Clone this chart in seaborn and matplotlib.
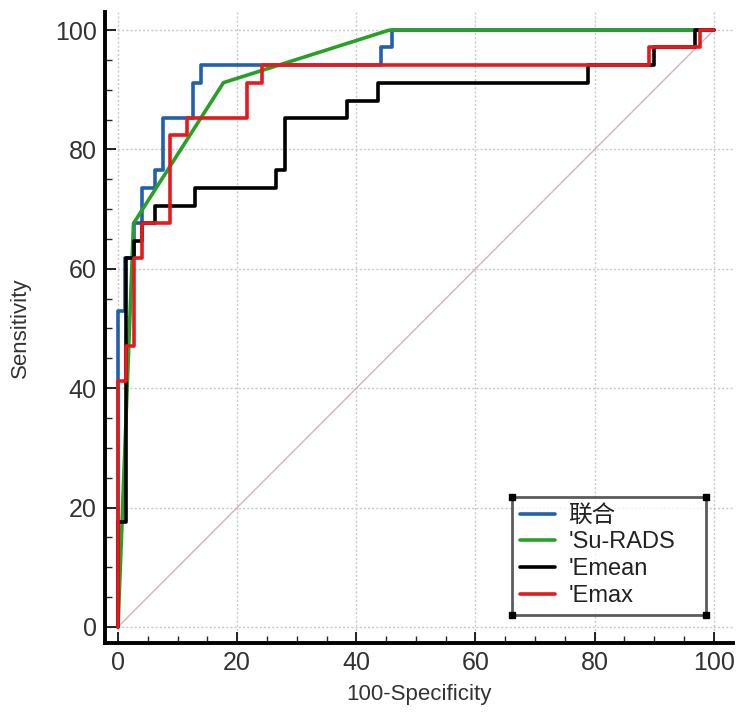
import matplotlib
matplotlib.use("Agg")
import matplotlib.pyplot as plt
from matplotlib.ticker import MultipleLocator
import seaborn as sns
import pandas as pd

# ROC step vertices: 100-specificity (x) and sensitivity (y)
lianhe_x = [0, 0, 1.2, 1.2, 2.6, 2.6, 4.0, 4.0, 6.2, 6.2, 7.6, 7.6, 12.6, 12.6, 14.0, 14.0,
            44.1, 44.1, 46.0, 46.0, 100]
lianhe_y = [0, 52.9, 52.9, 61.8, 61.8, 67.6, 67.6, 73.5, 73.5, 76.5, 76.5, 85.3, 85.3, 91.2,
            91.2, 94.1, 94.1, 97.1, 97.1, 100, 100]

surads_x = [0, 2.6, 17.7, 45.5, 100]
surads_y = [0, 67.6, 91.2, 100, 100]

emean_x = [0, 0, 1.3, 1.3, 2.6, 2.6, 4.0, 4.0, 6.2, 6.2, 12.9, 12.9, 26.6, 26.6, 28.0, 28.0,
           38.4, 38.4, 43.6, 43.6, 78.9, 78.9, 90.0, 90.0, 96.8, 96.8, 100]
emean_y = [0, 17.6, 17.6, 61.8, 61.8, 64.7, 64.7, 67.6, 67.6, 70.6, 70.6, 73.5, 73.5, 76.5,
           76.5, 85.3, 85.3, 88.2, 88.2, 91.2, 91.2, 94.1, 94.1, 97.1, 97.1, 100, 100]

emax_x = [0, 0, 1.4, 1.4, 2.6, 2.6, 4.0, 4.0, 8.7, 8.7, 11.5, 11.5, 21.6, 21.6, 24.1, 24.1,
          89.2, 89.2, 97.7, 97.7, 100]
emax_y = [0, 41.2, 41.2, 47.1, 47.1, 61.8, 61.8, 67.6, 67.6, 82.4, 82.4, 85.3, 85.3, 91.2,
          91.2, 94.1, 94.1, 97.1, 97.1, 100, 100]

labels = ["联合", "'Su-RADS", "'Emean", "'Emax"]
colors = ["#2160b0", "#28a028", "#000000", "#e8191c"]
diag = [0, 100]

series = [(lianhe_x, lianhe_y), (surads_x, surads_y), (emean_x, emean_y), (emax_x, emax_y)]
df = pd.concat(
    [pd.DataFrame({"x": sx, "y": sy, "model": lab}) for (sx, sy), lab in zip(series, labels)],
    ignore_index=True,
)

sns.set_style("ticks")
plt.rcParams["font.family"] = ["Liberation Sans", "Noto Sans CJK SC", "DejaVu Sans"]

fig = plt.figure(figsize=(7.44, 7.2), dpi=100)
ax = fig.add_axes([0.141, 0.107, 0.844, 0.876])

ax.plot(diag, diag, color="#d2b4b4", lw=1.0, zorder=1)
sns.lineplot(data=df, x="x", y="y", hue="model", hue_order=labels, palette=colors,
             sort=False, estimator=None, linewidth=2.6, ax=ax, zorder=3)

ax.set_xlim(-2.2, 103.2)
ax.set_ylim(-2.7, 103)
ax.xaxis.set_major_locator(MultipleLocator(20))
ax.yaxis.set_major_locator(MultipleLocator(20))
ax.xaxis.set_minor_locator(MultipleLocator(5))
ax.yaxis.set_minor_locator(MultipleLocator(5))
ax.grid(True, which="major", color="#c8c8c8", linestyle=(0, (1.5, 1.5)), linewidth=1.0)
ax.set_axisbelow(True)

for side in ["top", "right"]:
    ax.spines[side].set_visible(False)
for side in ["left", "bottom"]:
    ax.spines[side].set_linewidth(2.8)
    ax.spines[side].set_color("black")

ax.tick_params(which="major", direction="in", length=8, width=1.2, pad=6, colors="black")
ax.tick_params(which="minor", direction="in", length=5, width=1.0)
for lab in ax.get_xticklabels() + ax.get_yticklabels():
    lab.set_fontsize(18)
    lab.set_color("#333333")

ax.set_xlabel("100-Specificity", fontsize=16, color="#333333", labelpad=6)
ax.set_ylabel("Sensitivity", fontsize=16, color="#333333", labelpad=17)

handles, _ = ax.get_legend_handles_labels()
leg = ax.legend(handles, labels, loc="lower left", bbox_to_anchor=(0.648, 0.044, 0.309, 0.18),
                mode="expand", fontsize=17, frameon=True, fancybox=False, handlelength=1.5,
                labelspacing=0.2, borderpad=0.35, handletextpad=0.55, borderaxespad=0)
leg.get_frame().set_edgecolor("#333333")
leg.get_frame().set_linewidth(2.0)
for t in leg.get_texts():
    t.set_color("#222222")

fig.canvas.draw()
bb = leg.get_frame().get_window_extent(fig.canvas.get_renderer())
(x0, y0), (x1, y1) = ax.transAxes.inverted().transform([[bb.x0, bb.y0], [bb.x1, bb.y1]])
ax.plot([x0, x1, x0, x1], [y0, y0, y1, y1], "s", color="black", ms=4,
        transform=ax.transAxes, clip_on=False, zorder=10)

fig.savefig("out.png", dpi=100)
